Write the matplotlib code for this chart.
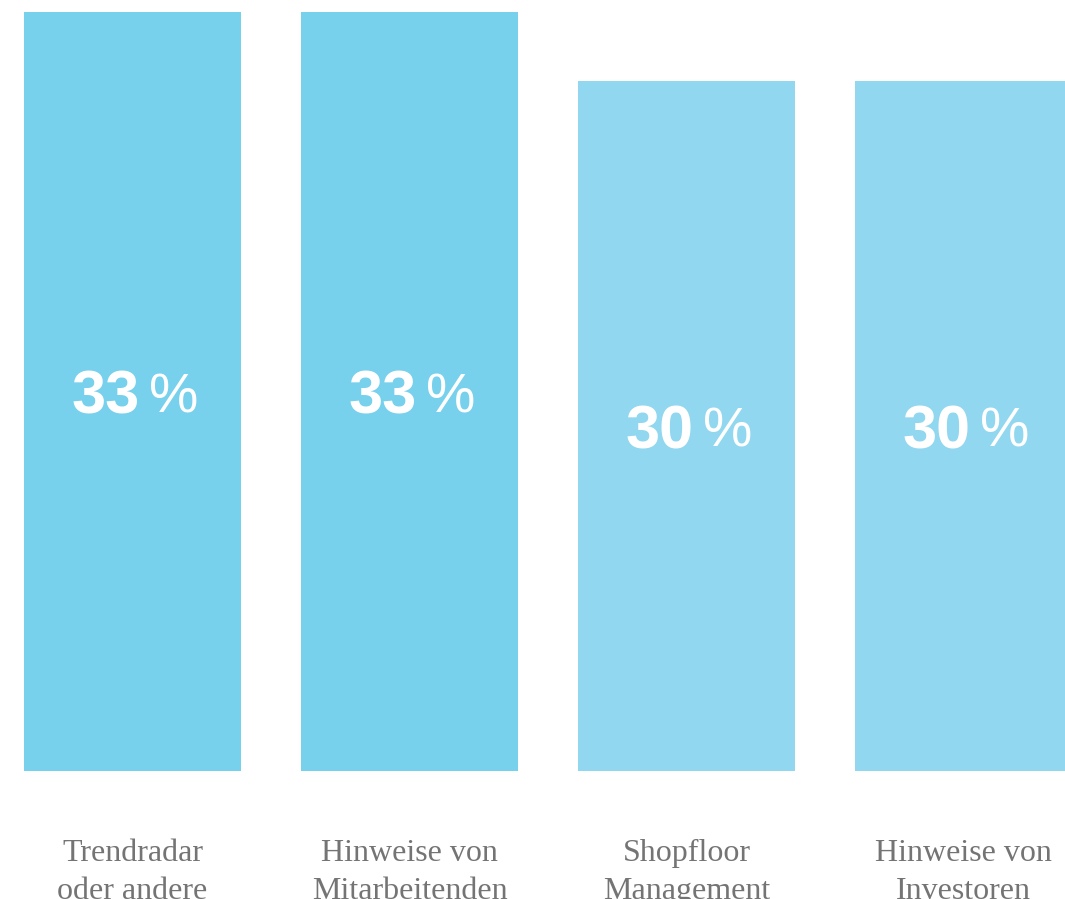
import matplotlib
matplotlib.use("Agg")
import matplotlib.pyplot as plt
import numpy as np

categories = ["Trendradar\noder andere", "Hinweise von\nMitarbeitenden",
              "Shopfloor\nManagement", "Hinweise von\nInvestoren"]
values = [33, 33, 30, 30]
bar_colors = ["#77d0ec", "#77d0ec", "#90d7ef", "#90d7ef"]

fig = plt.figure(figsize=(10.65, 8.99), dpi=100)
ax = fig.add_axes([0, 0, 1, 1])

x = np.arange(len(values))
ax.bar(x, values, width=0.783, color=bar_colors)

# map data to pixels: bar centres every 277 px, 23 px per percent
ax.set_xlim(-132.5 / 277, (1065 - 132.5) / 277)
ax.set_ylim(-(899 - 771) / 23, 771 / 23)
ax.axis("off")

for xi, v in zip(x, values):
    ax.annotate(str(v), (xi, v / 2), xytext=(5, -5), textcoords="offset points",
                ha="right", va="center", color="white", fontsize=44,
                fontweight="bold", family="Liberation Sans")
    ax.annotate("%", (xi, v / 2), xytext=(12, -5), textcoords="offset points",
                ha="left", va="center", color="white", fontsize=40,
                family="Liberation Sans")

# second line is cut by the bottom edge, as in the original
for xi, lab in zip(x, categories):
    ax.text(xi, -2.95, lab, ha="center", va="top", color="#747474",
            fontsize=23, family="Liberation Serif", linespacing=1.42)

fig.savefig("out.png", dpi=100)
